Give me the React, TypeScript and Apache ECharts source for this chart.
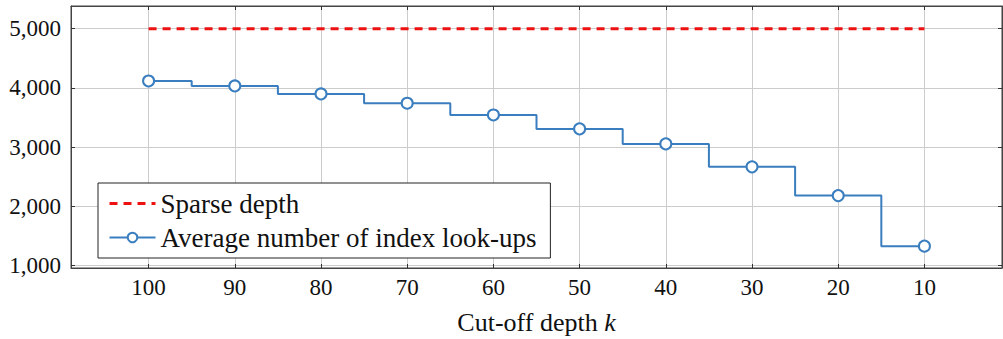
import React, { useEffect, useRef } from "react";
import * as echarts from "echarts";

const depthK = [100, 90, 80, 70, 60, 50, 40, 30, 20, 10];
const avgLookups = [4117, 4033, 3898, 3741, 3543, 3307, 3054, 2666, 2181, 1327];
const sparseDepth = [5000, 5000];
const sparseK = [100, 10];
const yTicks = [1000, 2000, 3000, 4000, 5000];

const FONT = "'Liberation Serif', 'DejaVu Serif', serif";

export default function App() {
  const ref = useRef<HTMLDivElement>(null);
  useEffect(() => {
    document.body.style.margin = "0";
    const chart = echarts.init(ref.current!, null, { renderer: "svg" });
    const tickColor = "#333";
    const gridColor = "#cccccc";
    const fmt = (v: number) => v.toLocaleString("en-US");
    const xCommon = {
      type: "value" as const,
      inverse: true,
      min: 1,
      max: 109,
    };
    const yCommon = {
      type: "value" as const,
      min: 958,
      max: 5383,
    };
    chart.setOption({
      animation: false,
      textStyle: { fontFamily: FONT },
      grid: {
        left: 71,
        right: 1,
        top: 6,
        bottom: 71,
        show: true,
        borderColor: "#444",
        borderWidth: 1,
        outerBoundsMode: "none",
        containLabel: false,
      },
      legend: {
        orient: "vertical",
        left: 98,
        top: 183,
        padding: [7, 14, 7, 10],
        itemGap: 7,
        itemWidth: 46,
        itemHeight: 12,
        backgroundColor: "#fff",
        borderColor: "#222",
        borderWidth: 1,
        borderRadius: 0,
        textStyle: { fontFamily: FONT, fontSize: 27, color: "#111" },
        data: [
          {
            name: "Sparse depth",
            itemStyle: { color: "rgba(0,0,0,0)", borderColor: "rgba(0,0,0,0)", borderWidth: 0 },
            lineStyle: { color: "#ee1111", width: 3, type: [8, 6] },
          },
          { name: "Average number of index look-ups" },
        ],
      },
      xAxis: [
        {
          ...xCommon,
          position: "bottom",
          name: "Cut-off depth {i|k}",
          nameLocation: "middle",
          nameGap: 41,
          nameMoveOverlap: false,
          nameTextStyle: {
            fontFamily: FONT,
            fontSize: 26,
            color: "#111",
            rich: { i: { fontFamily: FONT, fontSize: 26, fontStyle: "italic", color: "#111" } },
          },
          axisLine: { show: true, lineStyle: { color: "#444" } },
          axisTick: { show: true, inside: true, length: 4, customValues: depthK, lineStyle: { color: tickColor } },
          axisLabel: { customValues: depthK, fontFamily: FONT, fontSize: 23, color: "#111", margin: 8 },
          splitLine: { show: true, lineStyle: { color: gridColor, width: 1 } },
        },
        {
          ...xCommon,
          position: "top",
          axisLine: { show: true, lineStyle: { color: "#444" } },
          axisTick: { show: true, inside: true, length: 4, customValues: depthK, lineStyle: { color: tickColor } },
          axisLabel: { show: false },
          splitLine: { show: false },
        },
      ],
      yAxis: [
        {
          ...yCommon,
          position: "left",
          axisLine: { show: true, lineStyle: { color: "#444" } },
          axisTick: { show: true, inside: true, length: 4, customValues: yTicks, lineStyle: { color: tickColor } },
          axisLabel: { customValues: yTicks, formatter: fmt, fontFamily: FONT, fontSize: 23, color: "#111", margin: 10 },
          splitLine: { show: true, lineStyle: { color: gridColor, width: 1 } },
        },
        {
          ...yCommon,
          position: "right",
          axisLine: { show: true, lineStyle: { color: "#444" } },
          axisTick: { show: true, inside: true, length: 4, customValues: yTicks, lineStyle: { color: tickColor } },
          axisLabel: { show: false },
          splitLine: { show: false },
        },
      ],
      series: [
        {
          name: "Sparse depth",
          type: "line",
          xAxisIndex: 0,
          yAxisIndex: 0,
          data: sparseK.map((k, i) => [k, sparseDepth[i]]),
          showSymbol: false,
          symbol: "none",
          lineStyle: { color: "#ee1111", width: 3, type: [8, 6] },
          itemStyle: { color: "#ee1111" },
          z: 3,
        },
        {
          name: "Average number of index look-ups",
          type: "line",
          xAxisIndex: 0,
          yAxisIndex: 0,
          step: "middle",
          data: depthK.map((k, i) => [k, avgLookups[i]]),
          symbol: "emptyCircle",
          symbolSize: 11,
          lineStyle: { color: "#3a7ebf", width: 2 },
          itemStyle: { color: "#3a7ebf", borderWidth: 2, borderColor: "#3a7ebf" },
          z: 4,
        },
      ],
    });
    return () => chart.dispose();
  }, []);
  return <div ref={ref} style={{ width: 1003, height: 339 }} />;
}
